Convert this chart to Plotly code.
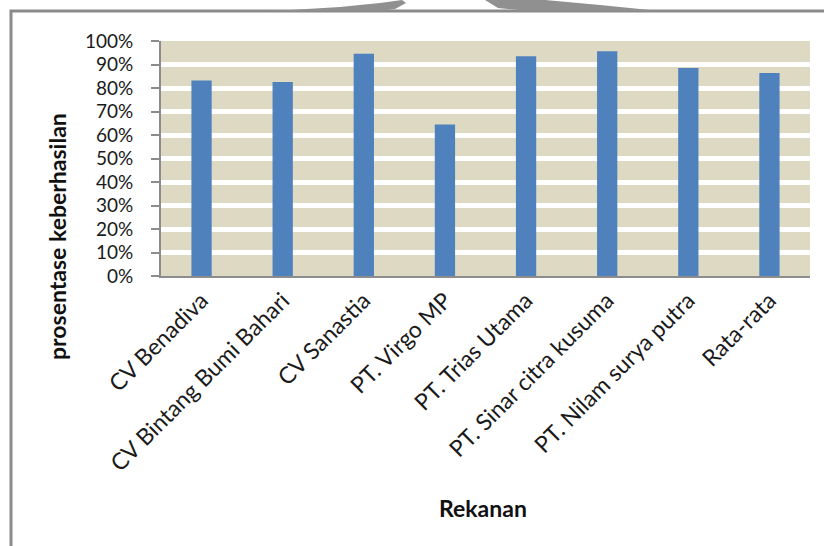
import plotly.graph_objects as go

categories = ["CV Benadiva", "CV Bintang Bumi Bahari", "CV Sanastia", "PT. Virgo MP",
              "PT. Trias Utama", "PT. Sinar citra kusuma", "PT. Nilam surya putra", "Rata-rata"]
values = [0.832, 0.826, 0.946, 0.645, 0.935, 0.956, 0.885, 0.864]
y_ticks = [i / 10 for i in range(11)]
y_tick_labels = [f"{i*10}%" for i in range(11)]
x_title = "Rekanan"
y_title = "prosentase keberhasilan"

W, H = 824, 546
L, R, T, B = 161, 14, 41, 270
pw, ph = W - L - R, H - T - B

def px_x(x):
    return (x - L) / pw

def px_y(y):
    return (H - B - y) / ph

FONT = "Lato"

fig = go.Figure(go.Bar(x=categories, y=values, marker_color="#4F81BD",
                       marker_line_width=0, width=0.25))

fig.update_layout(
    width=W, height=H,
    margin=dict(l=L, r=R, t=T, b=B, pad=0),
    paper_bgcolor="white", plot_bgcolor="#DDD9C3",
    showlegend=False,
    font=dict(family=FONT, color="#1a1a1a"),
)
fig.update_xaxes(
    tickangle=-45, tickfont=dict(size=23, family=FONT, color="#1a1a1a"),
    showline=True, linecolor="#8c8c8c", linewidth=2,
    showgrid=False, ticks="", range=[-0.5, 7.5],
)
fig.update_yaxes(
    range=[0, 1.0], tickvals=y_ticks, ticktext=y_tick_labels,
    tickfont=dict(size=19, family=FONT, color="#1a1a1a"),
    showline=True, linecolor="#8c8c8c", linewidth=2,
    ticks="outside", ticklen=8, tickcolor="#8c8c8c", tickwidth=1.5,
    ticklabelstandoff=14,
    showgrid=True, gridcolor="white", gridwidth=4.5, zeroline=False,
)

fig.add_annotation(text=y_title, xref="paper", yref="paper",
                   x=px_x(57), y=px_y(237), showarrow=False, textangle=-90,
                   font=dict(size=23, family=FONT, color="#111111", weight="bold"),
                   xanchor="center", yanchor="middle")
fig.add_annotation(text=x_title, xref="paper", yref="paper",
                   x=px_x(483), y=px_y(508), showarrow=False,
                   font=dict(size=23, family=FONT, color="#111111", weight="bold"),
                   xanchor="center", yanchor="middle")

# outer frame (left and top edges visible in the reference)
fig.add_shape(type="path", xref="paper", yref="paper",
              path=f"M {px_x(11)} {px_y(546)} L {px_x(11)} {px_y(11)} L {px_x(824)} {px_y(11)}",
              line=dict(color="#8a8a8a", width=3), layer="above")

# scanned grey swooshes above the frame
def pth(points):
    return "M " + " L ".join(f"{px_x(x)} {px_y(y)}" for x, y in points) + " Z"

fig.add_shape(type="path", xref="paper", yref="paper",
              path=pth([(225, 11), (290, 10), (340, 7), (380, 3), (402, 0), (406, 3), (395, 9), (380, 11)]),
              fillcolor="#909090", line=dict(width=0), layer="above")
fig.add_shape(type="path", xref="paper", yref="paper",
              path=pth([(485, 0), (545, 0), (600, 5), (650, 10), (650, 11), (530, 11), (498, 8)]),
              fillcolor="#909090", line=dict(width=0), layer="above")

fig.write_html("out.html")
